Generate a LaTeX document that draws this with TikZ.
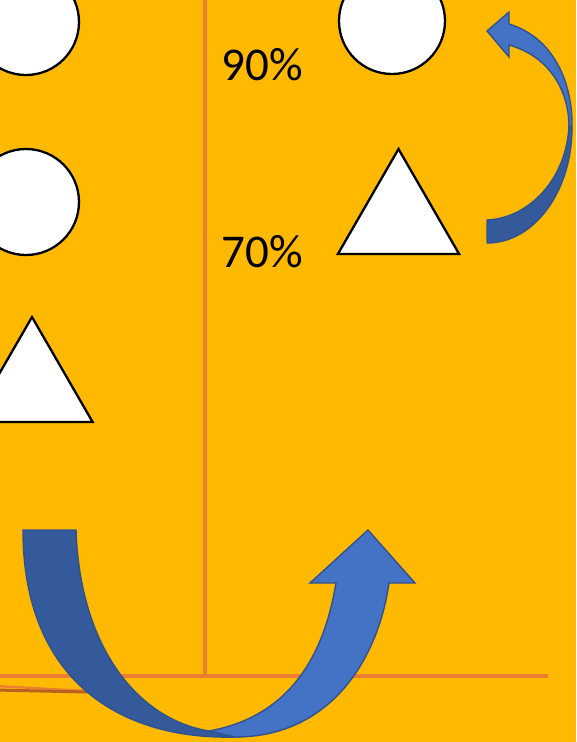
\documentclass[tikz,border=0pt]{standalone}
\usepackage{fontspec}
\setmainfont{Carlito}
\usepackage{tikz}
\usetikzlibrary{shapes.geometric, positioning}
\definecolor{bgGold}{HTML}{FFB900}
\definecolor{axisOrange}{HTML}{ED7D31}
\definecolor{axisBrown}{HTML}{B8601E}
\definecolor{arrowLight}{HTML}{4472C4}
\definecolor{arrowDark}{HTML}{345A9B}
\definecolor{arrowLine}{HTML}{2F528F}

\begin{document}
\begin{tikzpicture}[x=1pt, y=-1pt,
    blob/.style={circle, draw=black, fill=white, line width=2.3pt, minimum size=106pt, inner sep=0pt},
    tri/.style={regular polygon, regular polygon sides=3, draw=black, fill=white, line width=2.3pt, minimum size=140pt, inner sep=0pt},
    pct/.style={font=\fontsize{47}{47}\selectfont, anchor=base, inner sep=0pt},
    axis/.style={axisOrange, line width=3.6pt},
    band/.style={line width=1.4pt, draw=arrowLine, line join=miter}]
  \useasboundingbox (0,0) rectangle (576,742);
  \fill[bgGold] (0,0) rectangle (576,742);

  % axes
  \coordinate (vtop) at (205,-5);
  \coordinate (origin) at (205,676);
  \coordinate (hleft) at (-5,676);
  \coordinate (hright) at (548,676);
  \draw[axis] (vtop) -- (origin);
  \draw[axis] (hleft) -- (hright);
  \draw[axisOrange, line width=2.2pt] (-5,686) -- (88,691);
  \draw[axisBrown, line width=3pt] (-5,690) -- (88,692);

  % shapes
  \node[blob] (lcircA) at (26,22) {};
  \node[blob] (lcircB) at (26,202) {};
  \node[tri] (ltri) at (32,387) {};
  \node[blob] (rcirc) at (392,21) {};
  \node[tri] (rtri) at (398.5,219) {};

  \node[pct] (top) at (262,80) {90\%};
  \node[pct] (bot) at (262,267) {70\%};

  % big u-turn arrow
  \filldraw[band, fill=arrowDark] (23,530) -- (76,530)
      .. controls (80,650) and (140,720) .. (209,731) -- (235,737)
      .. controls (120,740) and (23,680) .. (23,530) -- cycle;
  \filldraw[band, fill=arrowLight] (209,731)
      .. controls (270,720) and (320,680) .. (336,583)
      -- (310,583) -- (368,530) -- (415,583) -- (389,583)
      .. controls (378,660) and (330,737) .. (235,737) -- cycle;

  % small curved arrow
  \filldraw[band, fill=arrowDark] (487,220)
      .. controls (530,218) and (567,178) .. (569,125) -- (572,128)
      .. controls (572,190) and (535,243) .. (487,243) -- cycle;
  \filldraw[band, fill=arrowLight] (569,125)
      .. controls (568,85) and (545,55) .. (509,45)
      -- (509,57) -- (487,31) -- (509,12) -- (509,24)
      .. controls (555,38) and (573,85) .. (572,128) -- cycle;
\end{tikzpicture}
\end{document}
